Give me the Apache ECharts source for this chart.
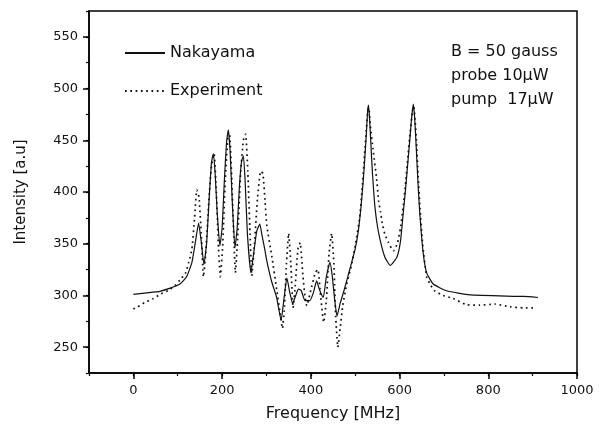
<!DOCTYPE html>
<html>
<head>
<meta charset="utf-8">
<script src="https://cdn.jsdelivr.net/npm/echarts@6/dist/echarts.min.js"></script>
<style>
html,body{margin:0;padding:0;background:#fff;}
#c{width:606px;height:430px;}
</style>
</head>
<body>
<div id="c"></div>
<script>
// Nakayama (theory) curve
var nakFreq = [0,20,40,60,83,105,120,132,140,147,153,159,165,171,176,180,184,189,195,200,205,210,214,218,223,229,234,239,244,248,252,257,265,271,278,285,290,296,301,312,323,333,339,346,353,359,366,372,378,387,398,406,413,420,428,435,443,448,454,459,466,475,489,500,507,513,518,522,525,528,530,532,535,538,541,544,549,556,567,579,594,602,608,614,619,624,628,631,634,638,642,646,653,661,676,706,759,879,912];
var nakVal = [301,302,303,304,307,311,318,332,352,370,352,330,350,395,428,437,420,380,348,365,410,448,460,440,390,346,365,405,430,435,410,360,322,340,362,369,358,345,333,313,298,276,295,317,302,292,300,306,305,295,295,303,314,305,298,318,332,320,295,280,292,305,327,345,362,385,410,435,455,478,484,474,450,425,405,388,370,354,337,329,337,352,378,405,430,455,475,485,472,440,405,377,342,322,311,304.5,300.5,299,298];

// Experiment curve
var expFreq = [0,10,25,45,60,80,95,105,117,125,132,138,143,148,153,158,163,170,176,182,187,192,196,201,207,213,217,222,227,230,235,242,248,253,258,263,267,273,280,287,292,297,301,312,323,330,336,340,345,350,355,360,365,371,376,382,387,391,400,410,416,422,429,435,441,447,452,456,461,466,472,481,492,500,510,516,521,525,529,531,534,540,548,553,557,561,567,575,586,595,602,608,614,619,624,629,632,635,638,642,646,652,661,670,679,698,721,751,781,815,849,879,905];
var expVal = [287,289,293,297,301,305,310,315,321,332,345,375,402,395,360,318,340,390,425,437,400,345,318,345,410,452,455,410,350,322,355,420,450,456,420,360,319,350,395,420,418,390,367,338,306,285,268,285,330,360,330,288,310,345,351,320,298,290,305,322,325,300,274,295,340,360,330,280,250,268,290,311,330,348,375,405,435,460,480,481,465,442,414,391,381,370,359,351,343,350,365,385,410,435,458,478,483,470,450,415,385,350,318,310,304.5,300,297,291,290.6,291.6,289,288,288];

// Axis ticks
var xLabelValues = [0,200,400,600,800,1000];
var yLabelValues = [250,300,350,400,450,500,550];

var seriesNames = ['Nakayama','Experiment'];
var annotation = ['B = 50 gauss','probe 10\u03bcW','pump  17\u03bcW'];

function pairs(xs, ys){ var o=[]; for(var i=0;i<xs.length;i++) o.push([xs[i], ys[i]]); return o; }
function plain(v){ return String(v); }

var FONT = 'DejaVu Sans';
var chart = echarts.init(document.getElementById('c'), null, {renderer:'canvas'});
chart.setOption({
  animation:false,
  backgroundColor:'#fff',
  textStyle:{fontFamily:FONT},
  grid:{left:89, right:29, top:11, bottom:57, show:true, borderColor:'#000', borderWidth:1.5, containLabel:false},
  legend:{
    orient:'vertical', left:124, top:45, padding:0, itemWidth:40, itemHeight:14, itemGap:22,
    itemStyle:{opacity:0},
    textStyle:{fontFamily:FONT, fontSize:16, color:'#111'},
    data:seriesNames
  },
  xAxis:[{
    type:'value', min:-100, max:1000, interval:100, position:'bottom',
    name:'Frequency [MHz]', nameLocation:'middle', nameGap:33,
    nameTextStyle:{fontFamily:FONT, fontSize:16, color:'#111'},
    axisLine:{show:true, onZero:false, lineStyle:{color:'#000', width:1.5}},
    axisTick:{show:true, customValues:xLabelValues, length:6, lineStyle:{color:'#000', width:1.5}},
    axisLabel:{customValues:xLabelValues, formatter:plain, margin:11, fontFamily:FONT, fontSize:13, color:'#111'},
    splitLine:{show:false}
  },{
    type:'value', min:-100, max:1000, interval:100, position:'bottom',
    axisLine:{show:false, onZero:false}, axisLabel:{show:false},
    axisTick:{show:true, length:3, lineStyle:{color:'#000', width:1.2}},
    splitLine:{show:false}
  }],
  yAxis:[{
    type:'value', min:225, max:575, interval:25, position:'left',
    name:'Intensity [a.u]', nameLocation:'middle', nameGap:60, nameRotate:90,
    nameTextStyle:{fontFamily:FONT, fontSize:15, color:'#111'},
    axisLine:{show:true, onZero:false, lineStyle:{color:'#000', width:1.5}},
    axisTick:{show:true, customValues:yLabelValues, length:6, lineStyle:{color:'#000', width:1.5}},
    axisLabel:{customValues:yLabelValues, formatter:plain, margin:11, fontFamily:FONT, fontSize:13, color:'#111'},
    splitLine:{show:false}
  },{
    type:'value', min:225, max:575, interval:25, position:'left',
    axisLine:{show:false, onZero:false}, axisLabel:{show:false},
    axisTick:{show:true, length:3, lineStyle:{color:'#000', width:1.2}},
    splitLine:{show:false}
  }],
  series:[{
    name:seriesNames[0], type:'line', xAxisIndex:0, yAxisIndex:0,
    data:pairs(nakFreq, nakVal), showSymbol:false, symbol:'none', smooth:0.15,
    lineStyle:{color:'#111', width:1.2}, itemStyle:{color:'#111'}
  },{
    name:seriesNames[1], type:'line', xAxisIndex:0, yAxisIndex:0,
    data:pairs(expFreq, expVal), showSymbol:false, symbol:'none', smooth:0.15,
    lineStyle:{color:'#111', width:1.7, type:[1.7,3.6]}, itemStyle:{color:'#111'}
  }],
  graphic:[
    {type:'text', left:451, top:44, style:{text:annotation[0], font:'16px "DejaVu Sans"', fill:'#111'}},
    {type:'text', left:451, top:68, style:{text:annotation[1], font:'16px "DejaVu Sans"', fill:'#111'}},
    {type:'text', left:451, top:92, style:{text:annotation[2], font:'16px "DejaVu Sans"', fill:'#111'}}
  ]
});
</script>
</body>
</html>
